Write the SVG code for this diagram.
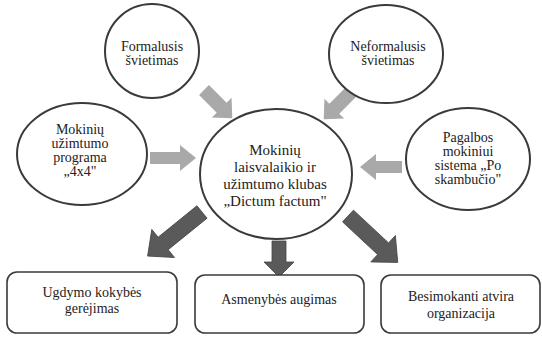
<svg xmlns="http://www.w3.org/2000/svg" width="542" height="337" viewBox="0 0 542 337">
<style>
.el{fill:#fff;stroke:#3a3a3a;stroke-width:2}
.bx{fill:#fff;stroke:#3a3a3a;stroke-width:1.6}
.t{font-family:"Liberation Serif","Times New Roman",serif;font-size:14px;fill:#222;text-anchor:middle}
.tc{font-size:15px}
.la{fill:#a9a9a9}
.da{fill:#5a5a5a;stroke:#444;stroke-width:0.8}
</style>
<rect width="542" height="337" fill="#fff"/>
<g id="connectors">
<polygon class="la" points="150,152 180,152 180,145 196,158 180,171 180,164 150,164"/>
<polygon class="la" points="402,161 376,161 376,154 360,167 376,180 376,173 402,173"/>
<g transform="translate(204,90) rotate(45)"><polygon class="la" points="0,-7 25,-7 25,-14 40,0 25,14 25,7 0,7"/></g>
<g transform="translate(352,91) rotate(135)"><polygon class="la" points="0,-7 25,-7 25,-14 40,0 25,14 25,7 0,7"/></g>
<g transform="translate(202,212) rotate(141)"><polygon class="da" points="0,-8 50,-8 50,-18 70,0 50,18 50,8 0,8"/></g>
<g transform="translate(279,241) rotate(90)"><polygon class="da" points="0,-7 21,-7 21,-15 36,0 21,15 21,7 0,7"/></g>
<g transform="translate(348,216) rotate(43)"><polygon class="da" points="0,-8 48,-8 48,-18 68,0 48,18 48,8 0,8"/></g>
</g>
<g id="formalusis">
<ellipse class="el" cx="152" cy="51" rx="47" ry="47"/>
<text class="t" x="152" y="51">Formalusis</text>
<text class="t" x="152" y="65">švietimas</text>
</g>
<g id="neformalusis">
<ellipse class="el" cx="386" cy="54" rx="57" ry="49"/>
<text class="t" x="388" y="51">Neformalusis</text>
<text class="t" x="388" y="65">švietimas</text>
</g>
<g id="programa">
<ellipse class="el" cx="82" cy="154" rx="65" ry="51"/>
<text class="t" x="80" y="134">Mokinių</text>
<text class="t" x="80" y="148">užimtumo</text>
<text class="t" x="80" y="162">programa</text>
<text class="t" x="80" y="176">„4x4"</text>
</g>
<g id="klubas">
<ellipse class="el" cx="276" cy="174" rx="76" ry="65"/>
<text class="t tc" x="275" y="155">Mokinių</text>
<text class="t tc" x="275" y="172">laisvalaikio ir</text>
<text class="t tc" x="275" y="189">užimtumo klubas</text>
<text class="t tc" x="275" y="206">„Dictum factum"</text>
</g>
<g id="pagalbos">
<ellipse class="el" cx="468" cy="159" rx="62" ry="51"/>
<text class="t" x="468" y="142">Pagalbos</text>
<text class="t" x="468" y="156">mokiniui</text>
<text class="t" x="468" y="170">sistema „Po</text>
<text class="t" x="468" y="184">skambučio"</text>
</g>
<g id="ugdymo">
<rect class="bx" x="7" y="272" width="170" height="61" rx="10"/>
<text class="t" x="92" y="297">Ugdymo kokybės</text>
<text class="t" x="92" y="313">gerėjimas</text>
</g>
<g id="asmenybes">
<rect class="bx" x="195" y="275" width="169" height="58" rx="10"/>
<text class="t" x="279" y="304">Asmenybės augimas</text>
</g>
<g id="besimokanti">
<rect class="bx" x="381" y="275" width="159" height="58" rx="10"/>
<text class="t" x="461" y="301">Besimokanti atvira</text>
<text class="t" x="461" y="318">organizacija</text>
</g>
</svg>
